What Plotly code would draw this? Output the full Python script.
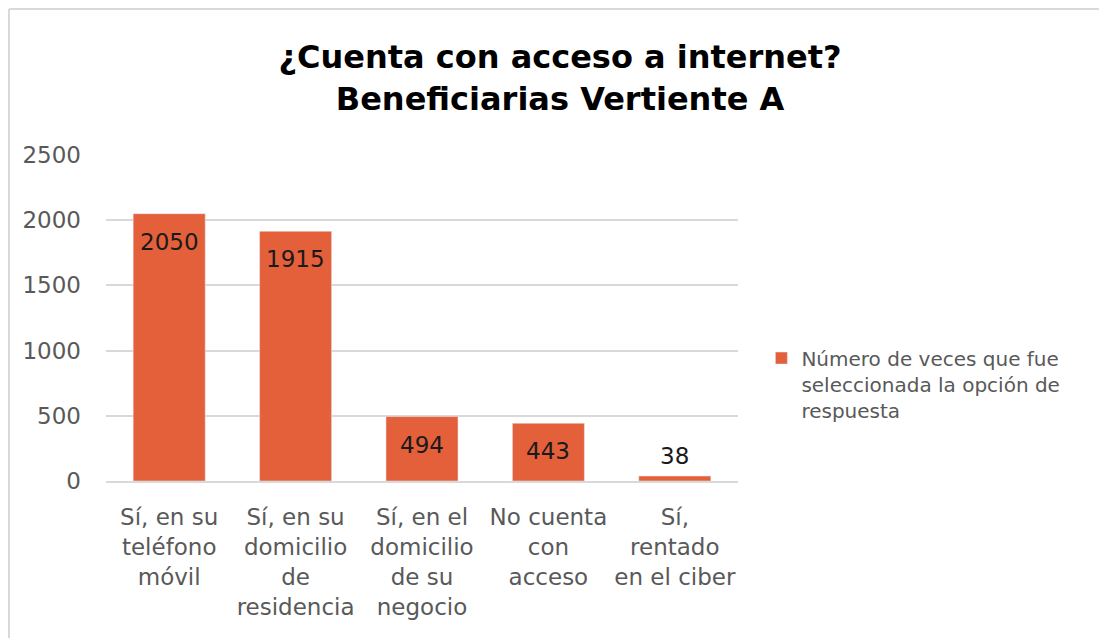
import plotly.graph_objects as go

CATEGORIES = [
    "Sí, en su<br>teléfono<br>móvil",
    "Sí, en su<br>domicilio<br>de<br>residencia",
    "Sí, en el<br>domicilio<br>de su<br>negocio",
    "No cuenta<br>con<br>acceso",
    "Sí,<br>rentado<br>en el ciber",
]
VALUES = [2050, 1915, 494, 443, 38]
SERIES_NAME = "Número de veces que fue<br>seleccionada la opción de<br>respuesta"
Y_TICKS = [0, 500, 1000, 1500, 2000, 2500]

BAR = "#E4603B"
GRID = "#D9D9D9"
TEXT = "#595959"
FONT = "DejaVu Sans"

fig = go.Figure()
fig.add_trace(
    go.Bar(
        x=CATEGORIES,
        y=VALUES,
        name=SERIES_NAME,
        marker_color=BAR,
        showlegend=True,
    )
)

# value labels: inside near the top when the bar is tall enough, above otherwise
for cat, val in zip(CATEGORIES, VALUES):
    fig.add_annotation(
        x=cat, y=val, text=str(val), showarrow=False,
        yanchor="middle", yshift=-28 if val > 200 else 20,
        font=dict(family=FONT, size=23, color="#1a1a1a"),
    )

fig.update_layout(
    width=1099,
    height=630,
    paper_bgcolor="white",
    plot_bgcolor="white",
    margin=dict(l=98, r=369, t=147, b=157, autoexpand=False),
    bargap=0.43,
    title=dict(
        text="¿Cuenta con acceso a internet?<br>Beneficiarias Vertiente A",
        x=0.5023,
        xanchor="center",
        xref="container",
        y=0.9048,
        yanchor="middle",
        yref="container",
        font=dict(family=FONT, size=32, color="#000000", weight="bold"),
    ),
    font=dict(family=FONT, size=23, color=TEXT),
    legend=dict(
        x=1.037,
        y=0.437,
        xanchor="left",
        yanchor="top",
        valign="top",
        font=dict(family=FONT, size=20, color=TEXT),
        itemwidth=30,
    ),
    showlegend=True,
)
fig.update_xaxes(showgrid=False, showline=True, linecolor=GRID, linewidth=1.5, ticks="",
                 automargin=False, ticklabelstandoff=15, tickfont=dict(size=23, color=TEXT))
fig.update_yaxes(
    range=[0, 2500],
    tickvals=Y_TICKS,
    showgrid=True,
    gridcolor=GRID,
    gridwidth=1.5,
    zeroline=False,
    showline=False,
    automargin=False,
    ticklabelstandoff=24,
    tickfont=dict(size=23, color=TEXT),
)

# light frame on the top and left edges
fig.add_shape(type="line", xref="paper", yref="paper", x0=-0.1535, x1=1.6, y0=1.448, y1=1.448,
              line=dict(color=GRID, width=2))
fig.add_shape(type="line", xref="paper", yref="paper", x0=-0.1535, x1=-0.1535, y0=-0.5, y1=1.448,
              line=dict(color=GRID, width=2))

fig.write_html("out.html")
